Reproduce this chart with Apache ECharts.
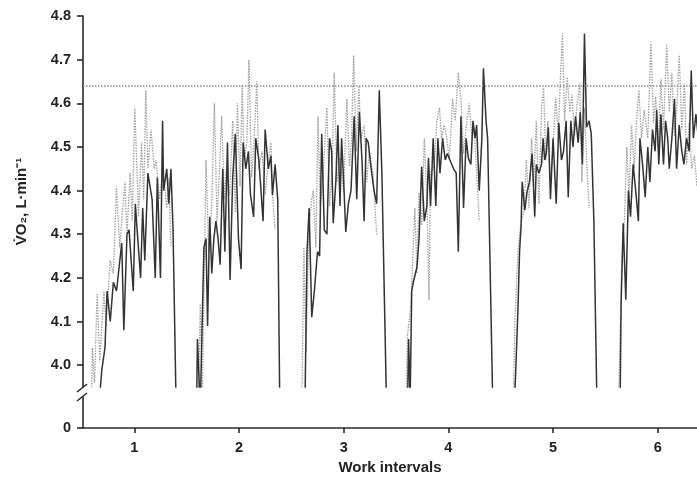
<!DOCTYPE html>
<html><head><meta charset="utf-8">
<script src="https://cdn.jsdelivr.net/npm/echarts@6/dist/echarts.min.js"></script>
<style>html,body{margin:0;padding:0;background:#fff}#c{width:697px;height:479px}</style>
</head><body><div id="c"></div>
<script>
// ---- data: [work-interval position, VO2 L/min] ----
const solid1 = [[0.66,3.90],[0.69,3.99],[0.72,4.04],[0.74,4.17],[0.77,4.10],[0.80,4.19],[0.83,4.17],[0.88,4.28],[0.90,4.08],[0.93,4.30],[0.95,4.31],[0.99,4.17],[1.01,4.37],[1.03,4.30],[1.06,4.20],[1.08,4.36],[1.10,4.24],[1.13,4.44],[1.17,4.38],[1.20,4.20],[1.22,4.43],[1.25,4.20],[1.27,4.56],[1.28,4.40],[1.31,4.45],[1.33,4.37],[1.35,4.45],[1.37,4.31],[1.40,3.90]];
const dotted1 = [[0.59,3.90],[0.60,4.04],[0.62,3.96],[0.645,4.165],[0.67,4.01],[0.71,4.17],[0.73,4.09],[0.77,4.24],[0.80,4.21],[0.83,4.41],[0.86,4.27],[0.91,4.42],[0.93,4.30],[0.96,4.44],[0.98,4.33],[1.005,4.59],[1.04,4.34],[1.07,4.51],[1.09,4.38],[1.11,4.63],[1.13,4.45],[1.16,4.54],[1.19,4.45],[1.21,4.47],[1.24,4.38],[1.275,4.45],[1.31,4.36],[1.33,4.43],[1.35,4.27]];
const solid2 = [[1.595,3.90],[1.603,4.06],[1.63,3.90],[1.665,4.27],[1.685,4.29],[1.70,4.09],[1.72,4.34],[1.74,4.21],[1.76,4.29],[1.78,4.33],[1.80,4.29],[1.82,4.23],[1.845,4.45],[1.865,4.26],[1.89,4.51],[1.915,4.195],[1.94,4.43],[1.965,4.53],[1.995,4.29],[2.02,4.22],[2.04,4.51],[2.065,4.45],[2.09,4.49],[2.11,4.39],[2.14,4.34],[2.16,4.52],[2.19,4.47],[2.23,4.33],[2.25,4.54],[2.28,4.45],[2.305,4.48],[2.32,4.39],[2.345,4.46],[2.37,4.38],[2.39,3.90]];
const dotted2 = [[1.61,3.90],[1.63,4.14],[1.65,3.93],[1.685,4.47],[1.71,4.26],[1.74,4.37],[1.765,4.60],[1.79,4.33],[1.81,4.43],[1.835,4.57],[1.86,4.38],[1.88,4.45],[1.91,4.39],[1.94,4.56],[1.965,4.35],[1.985,4.60],[2.01,4.41],[2.03,4.64],[2.05,4.47],[2.075,4.51],[2.095,4.70],[2.12,4.43],[2.145,4.52],[2.17,4.65],[2.19,4.45],[2.22,4.49],[2.25,4.39],[2.28,4.47],[2.305,4.51],[2.32,4.39],[2.345,4.31]];
const solid3 = [[2.63,3.90],[2.65,4.26],[2.67,4.36],[2.695,4.11],[2.72,4.17],[2.75,4.26],[2.77,4.25],[2.79,4.53],[2.815,4.31],[2.84,4.30],[2.865,4.52],[2.885,4.49],[2.90,4.325],[2.925,4.42],[2.945,4.55],[2.965,4.365],[2.98,4.52],[3.00,4.42],[3.02,4.305],[3.045,4.37],[3.07,4.40],[3.10,4.57],[3.125,4.38],[3.15,4.58],[3.175,4.47],[3.195,4.33],[3.215,4.52],[3.235,4.51],[3.26,4.455],[3.29,4.40],[3.315,4.37],[3.34,4.63],[3.365,4.44],[3.41,3.90]];
const dotted3 = [[2.60,3.90],[2.62,4.27],[2.64,4.03],[2.67,4.32],[2.695,4.38],[2.71,4.40],[2.735,4.27],[2.755,4.57],[2.775,4.365],[2.80,4.42],[2.84,4.59],[2.865,4.365],[2.89,4.455],[2.91,4.67],[2.935,4.42],[2.965,4.475],[3.00,4.395],[3.03,4.61],[3.055,4.455],[3.075,4.52],[3.095,4.71],[3.12,4.49],[3.145,4.64],[3.165,4.52],[3.195,4.55],[3.22,4.42],[3.245,4.49],[3.28,4.44],[3.315,4.30]];
const solid4 = [[3.61,3.90],[3.62,4.06],[3.635,3.92],[3.65,4.17],[3.665,4.19],[3.70,4.225],[3.72,4.29],[3.745,4.455],[3.77,4.33],[3.795,4.365],[3.81,4.475],[3.83,4.365],[3.855,4.52],[3.88,4.365],[3.90,4.52],[3.92,4.44],[3.945,4.52],[3.97,4.47],[3.99,4.485],[4.015,4.47],[4.05,4.45],[4.075,4.44],[4.095,4.26],[4.12,4.57],[4.145,4.36],[4.17,4.52],[4.19,4.475],[4.215,4.46],[4.235,4.56],[4.255,4.52],[4.27,4.55],[4.295,4.40],[4.32,4.52],[4.335,4.68],[4.36,4.56],[4.375,4.52],[4.425,3.90]];
const dotted4 = [[3.595,3.90],[3.61,4.07],[3.64,4.13],[3.68,4.36],[3.70,4.21],[3.72,4.395],[3.745,4.32],[3.77,4.52],[3.795,4.38],[3.815,4.15],[3.83,4.44],[3.865,4.455],[3.89,4.56],[3.915,4.59],[3.935,4.52],[3.96,4.55],[3.985,4.52],[4.01,4.47],[4.04,4.61],[4.065,4.56],[4.095,4.67],[4.12,4.61],[4.145,4.485],[4.17,4.545],[4.20,4.60],[4.225,4.52],[4.245,4.545],[4.27,4.44],[4.295,4.33]];
const solid5 = [[4.63,3.90],[4.65,4.03],[4.665,4.13],[4.68,4.26],[4.695,4.32],[4.705,4.42],[4.73,4.355],[4.75,4.395],[4.775,4.42],[4.80,4.485],[4.825,4.34],[4.84,4.46],[4.865,4.44],[4.89,4.46],[4.905,4.52],[4.92,4.47],[4.935,4.485],[4.955,4.545],[4.975,4.38],[5.00,4.52],[5.03,4.37],[5.055,4.555],[5.08,4.47],[5.10,4.49],[5.125,4.56],[5.145,4.385],[5.17,4.56],[5.19,4.50],[5.215,4.57],[5.24,4.51],[5.26,4.58],[5.28,4.46],[5.30,4.76],[5.32,4.545],[5.345,4.56],[5.365,4.53],[5.39,4.33],[5.42,3.90]];
const dotted5 = [[4.62,3.90],[4.635,4.10],[4.665,4.26],[4.695,4.33],[4.72,4.35],[4.745,4.47],[4.77,4.36],[4.795,4.52],[4.815,4.41],[4.84,4.56],[4.865,4.37],[4.89,4.59],[4.91,4.635],[4.93,4.47],[4.95,4.56],[4.975,4.42],[5.00,4.50],[5.025,4.615],[5.05,4.53],[5.07,4.655],[5.09,4.76],[5.11,4.56],[5.135,4.66],[5.16,4.58],[5.18,4.62],[5.205,4.525],[5.23,4.60],[5.255,4.645],[5.275,4.42],[5.30,4.59],[5.325,4.445],[5.345,4.36]];
const solid6 = [[5.64,3.90],[5.65,4.14],[5.67,4.325],[5.695,4.15],[5.72,4.40],[5.74,4.34],[5.765,4.46],[5.795,4.385],[5.815,4.33],[5.83,4.52],[5.855,4.46],[5.88,4.385],[5.905,4.50],[5.925,4.42],[5.95,4.54],[5.975,4.49],[5.99,4.585],[6.01,4.46],[6.03,4.575],[6.055,4.46],[6.075,4.56],[6.095,4.52],[6.11,4.45],[6.135,4.52],[6.16,4.61],[6.18,4.45],[6.205,4.55],[6.23,4.49],[6.25,4.46],[6.275,4.52],[6.30,4.49],[6.32,4.675],[6.34,4.52],[6.365,4.575],[6.40,4.49]];
const dotted6 = [[5.625,3.90],[5.655,4.23],[5.68,4.325],[5.705,4.50],[5.725,4.385],[5.75,4.55],[5.775,4.45],[5.80,4.57],[5.82,4.63],[5.845,4.52],[5.87,4.585],[5.905,4.52],[5.935,4.74],[5.96,4.555],[5.98,4.615],[6.005,4.50],[6.03,4.655],[6.055,4.54],[6.085,4.735],[6.11,4.58],[6.135,4.67],[6.16,4.525],[6.18,4.58],[6.205,4.71],[6.23,4.54],[6.255,4.645],[6.275,4.46],[6.30,4.555],[6.325,4.45],[6.35,4.48],[6.375,4.41],[6.40,4.45]];
const referenceLevel = 4.645;
const yTicksTop = [4.0, 4.1, 4.2, 4.3, 4.4, 4.5, 4.6, 4.7, 4.8];
const yTicksBottom = [0];
const xTicks = [1, 2, 3, 4, 5, 6];

const solidSets = [solid1, solid2, solid3, solid4, solid5, solid6];
const dottedSets = [dotted1, dotted2, dotted3, dotted4, dotted5, dotted6];

const FONT = "'Liberation Sans', Arial, Helvetica, sans-serif";
const AX = '#2a2a2a';
const xMin = 0.51, xMax = 6.375;

const series = [];
dottedSets.forEach((d, i) => {
  const s = {
    type: 'line', xAxisIndex: 0, yAxisIndex: 0, data: d, showSymbol: false,
    lineStyle: { color: '#a0a0a0', width: 1.3, type: [1.5, 1.2] }, z: 2, silent: true
  };
  if (i === 0) {
    s.markLine = {
      silent: true, symbol: 'none', label: { show: false },
      lineStyle: { color: '#8c8c8c', width: 1.5, type: [1.5, 1.5] },
      data: [{ yAxis: referenceLevel }]
    };
  }
  series.push(s);
});
solidSets.forEach(d => {
  series.push({
    type: 'line', xAxisIndex: 0, yAxisIndex: 0, data: d, showSymbol: false,
    lineStyle: { color: '#333', width: 1.5 }, z: 3, silent: true
  });
});
series.push({ type: 'line', xAxisIndex: 1, yAxisIndex: 1, data: [] });

const labelStyle = { color: '#222', fontFamily: FONT, fontWeight: 'bold', fontSize: 14.5 };

const chart = echarts.init(document.getElementById('c'), null, { renderer: 'canvas' });
chart.setOption({
  animation: false,
  backgroundColor: '#fff',
  grid: [
    { left: 83, right: 0, top: 16, bottom: 92, containLabel: false },
    { left: 83, right: 0, top: 397, bottom: 51, containLabel: false }
  ],
  xAxis: [
    { type: 'value', gridIndex: 0, min: xMin, max: xMax, show: false },
    {
      type: 'value', gridIndex: 1, min: xMin, max: xMax,
      axisLine: { show: true, onZero: false, lineStyle: { color: AX, width: 1.6 } },
      axisTick: { show: true, length: 5, customValues: xTicks, lineStyle: { color: AX, width: 1.6 } },
      axisLabel: Object.assign({ customValues: xTicks, margin: 12, formatter: v => String(v) }, labelStyle),
      splitLine: { show: false },
      name: 'Work intervals', nameLocation: 'middle', nameGap: 32,
      nameTextStyle: { color: '#222', fontFamily: FONT, fontWeight: 'bold', fontSize: 15 }
    }
  ],
  yAxis: [
    {
      type: 'value', gridIndex: 0, min: 3.95, max: 4.8,
      axisLine: { show: true, lineStyle: { color: AX, width: 1.6 } },
      axisTick: { show: true, length: 6, customValues: yTicksTop, lineStyle: { color: AX, width: 1.6 } },
      axisLabel: Object.assign({ customValues: yTicksTop, margin: 12, formatter: v => v.toFixed(1) }, labelStyle),
      splitLine: { show: false },
      name: 'V\u0307O\u2082, L\u00B7min\u207B\u00B9', nameLocation: 'middle', nameGap: 54, nameRotate: 90,
      nameTextStyle: { color: '#222', fontFamily: FONT, fontWeight: 'bold', fontSize: 15 }
    },
    {
      type: 'value', gridIndex: 1, min: 0, max: 1,
      axisLine: { show: true, lineStyle: { color: AX, width: 1.6 } },
      axisTick: { show: true, length: 6, customValues: yTicksBottom, lineStyle: { color: AX, width: 1.6 } },
      axisLabel: Object.assign({ customValues: yTicksBottom, margin: 12, formatter: v => String(v) }, labelStyle),
      splitLine: { show: false }
    }
  ],
  series: series
});

const topEnd = chart.convertToPixel({ gridIndex: 0 }, [xMin, 3.95]);
const botStart = chart.convertToPixel({ gridIndex: 1 }, [xMin, 1]);
chart.setOption({
  graphic: [
    { type: 'line', shape: { x1: topEnd[0] - 6, y1: topEnd[1] + 5, x2: topEnd[0] + 4, y2: topEnd[1] - 3 }, style: { stroke: AX, lineWidth: 1.6 } },
    { type: 'line', shape: { x1: botStart[0] - 6, y1: botStart[1] + 4, x2: botStart[0] + 4, y2: botStart[1] - 4 }, style: { stroke: AX, lineWidth: 1.6 } }
  ]
});
</script></body></html>
